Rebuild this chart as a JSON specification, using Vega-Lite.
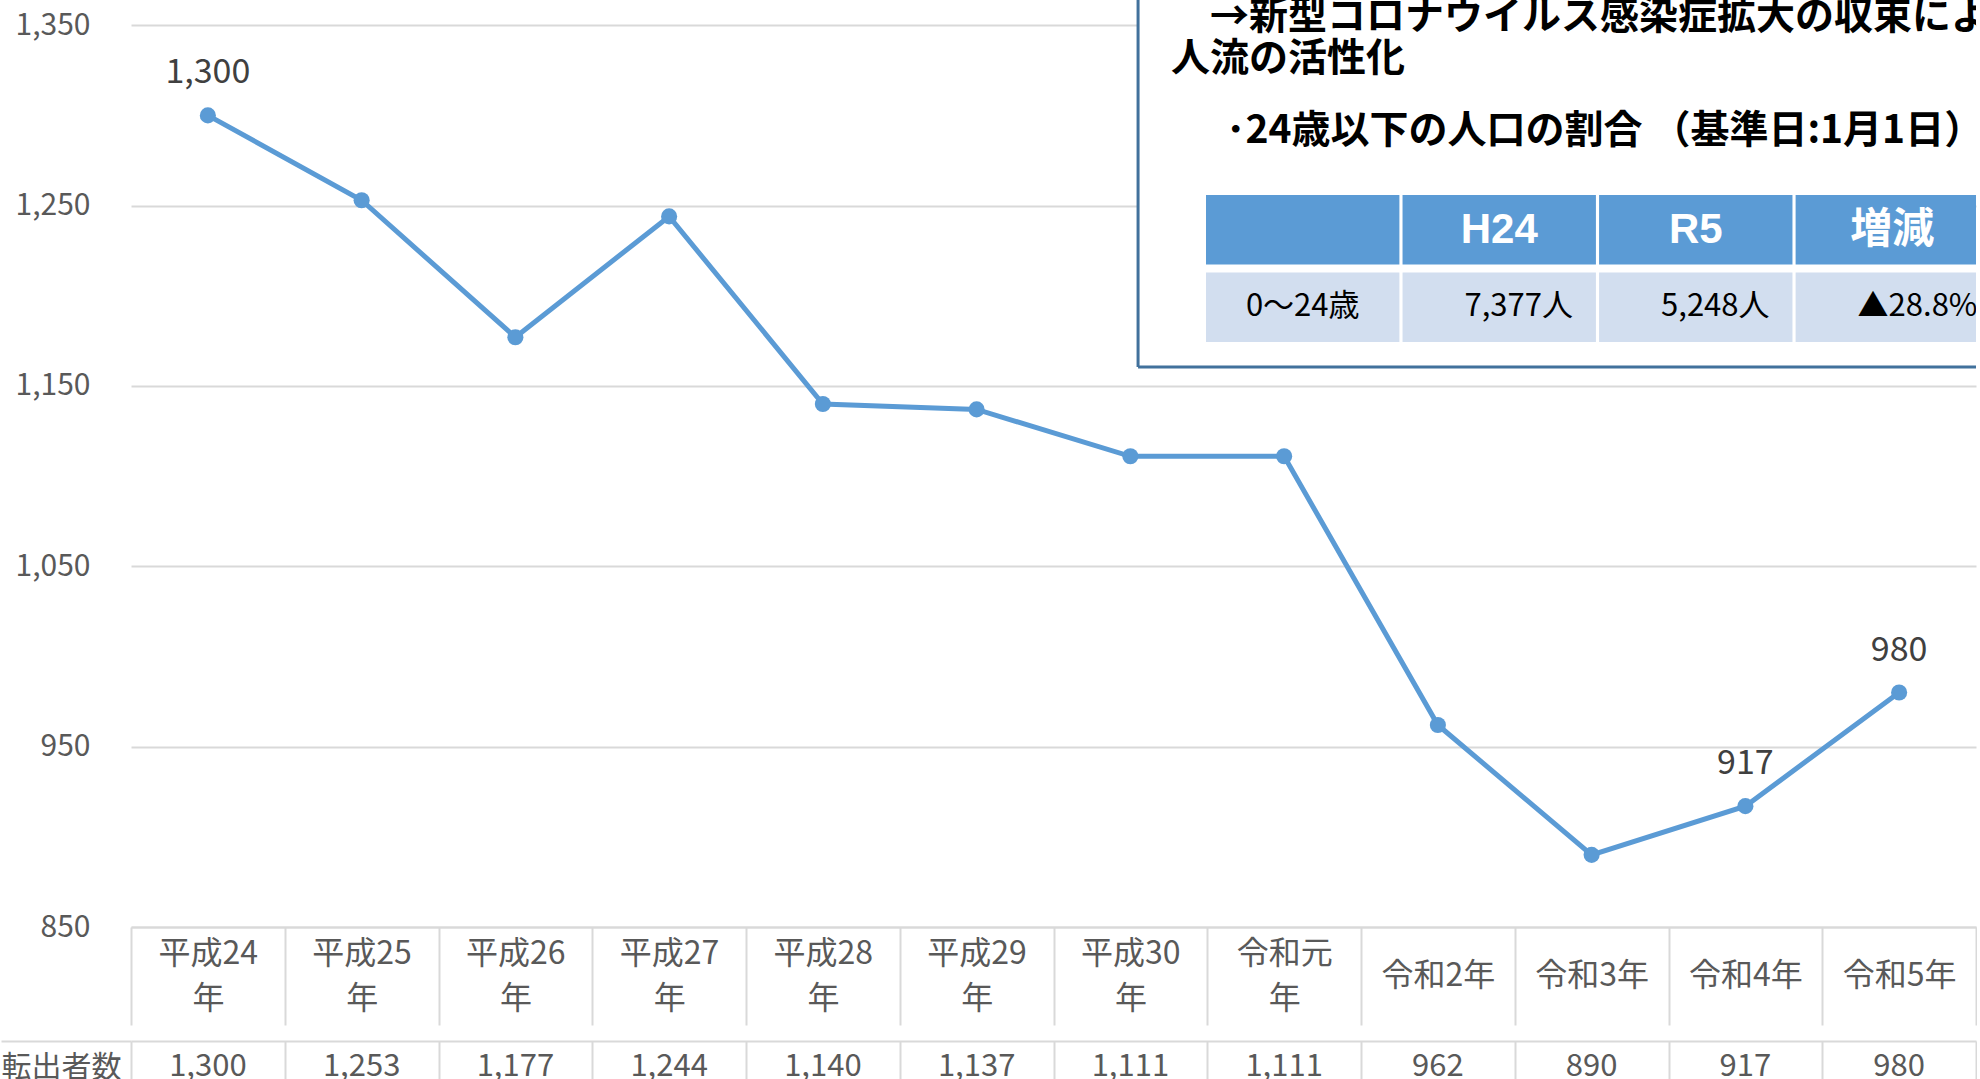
{
  "$schema": "https://vega.github.io/schema/vega-lite/v6.json",
  "padding": 0,
  "spacing": 0,
  "background": "white",
  "config": {"font": "Noto Sans CJK JP", "view": {"stroke": null}, "concat": {"spacing": 0}},
  "datasets": {
    "転出": [
      {"年": "平成24年", "転出者数": 1300},
      {"年": "平成25年", "転出者数": 1253},
      {"年": "平成26年", "転出者数": 1177},
      {"年": "平成27年", "転出者数": 1244},
      {"年": "平成28年", "転出者数": 1140},
      {"年": "平成29年", "転出者数": 1137},
      {"年": "平成30年", "転出者数": 1111},
      {"年": "令和元年", "転出者数": 1111},
      {"年": "令和2年", "転出者数": 962},
      {"年": "令和3年", "転出者数": 890},
      {"年": "令和4年", "転出者数": 917},
      {"年": "令和5年", "転出者数": 980}
    ],
    "年齢表": [
      {"行": "表頭", "列": "区分", "文字": ""},
      {"行": "表頭", "列": "H24", "文字": "H24"},
      {"行": "表頭", "列": "R5", "文字": "R5"},
      {"行": "表頭", "列": "増減", "文字": "増減"},
      {"行": "表体", "列": "区分", "文字": "0〜24歳"},
      {"行": "表体", "列": "H24", "文字": "7,377人"},
      {"行": "表体", "列": "R5", "文字": "5,248人"},
      {"行": "表体", "列": "増減", "文字": "▲28.8%"}
    ]
  },
  "vconcat": [
    {
      "width": 1845,
      "height": 927,
      "layer": [
        {
          "data": {"name": "転出"},
          "layer": [
            {
              "mark": {"type": "line", "color": "#5B9BD5", "strokeWidth": 5},
              "encoding": {
                "x": {
                  "field": "年", "type": "nominal", "sort": null, "bandPosition": 0.5,
                  "scale": {"type": "band", "paddingInner": 0, "paddingOuter": 0,
                    "domain": ["平成24年","平成25年","平成26年","平成27年","平成28年","平成29年","平成30年","令和元年","令和2年","令和3年","令和4年","令和5年"]},
                  "axis": {
                    "title": null, "orient": "bottom", "grid": false,
                    "domainColor": "#D9D9D9", "domainWidth": 2,
                    "tickBand": "extent", "tickSize": 98, "tickColor": "#D9D9D9", "tickWidth": 2,
                    "labelFont": "Noto Sans CJK JP", "labelFontSize": 32, "labelColor": "#595959",
                    "labelAngle": 0, "labelBaseline": "middle", "labelPadding": -72,
                    "labelLineHeight": 22.7, "labelOverlap": false, "maxExtent": 98,
                    "labelExpr": "(indexof(datum.label,'平成')===0 || datum.label==='令和元年') ? [replace(datum.label,'年',''), '\u200b', '年'] : ['\u200b', datum.label]"
                  }
                },
                "y": {
                  "field": "転出者数", "type": "quantitative",
                  "scale": {"domain": [850, 1364], "nice": false, "zero": false},
                  "axis": {
                    "title": null, "values": [850, 950, 1050, 1150, 1250, 1350], "format": ",.0f",
                    "grid": true, "gridColor": "#D9D9D9", "gridWidth": 2,
                    "domain": false, "ticks": false,
                    "labelFont": "Noto Sans CJK JP", "labelFontSize": 30, "labelColor": "#595959",
                    "labelPadding": 41, "labelBaseline": "middle"
                  }
                }
              }
            },
            {
              "mark": {"type": "point", "filled": true, "color": "#5B9BD5", "size": 260, "opacity": 1},
              "encoding": {
                "x": {"field": "年", "type": "nominal", "sort": null, "bandPosition": 0.5},
                "y": {"field": "転出者数", "type": "quantitative"}
              }
            },
            {
              "transform": [{"filter": {"field": "年", "oneOf": ["平成24年", "令和4年", "令和5年"]}}],
              "mark": {"type": "text", "fontSize": 34, "color": "#404040", "dy": -42, "baseline": "middle", "align": "center"},
              "encoding": {
                "x": {"field": "年", "type": "nominal", "sort": null, "bandPosition": 0.5},
                "y": {"field": "転出者数", "type": "quantitative"},
                "text": {"field": "転出者数", "type": "quantitative", "format": ","}
              }
            },
            {
              "data": {"values": [{}]},
              "mark": {"type": "rect", "fill": "white", "clip": true},
              "encoding": {
                "x": {"datum": "平成30年", "type": "nominal", "bandPosition": 0.55},
                "x2": {"datum": "令和5年", "bandPosition": 1},
                "y": {"datum": 1160.5, "type": "quantitative"},
                "y2": {"datum": 1364}
              }
            },
            {
              "data": {"values": [{}]},
              "mark": {"type": "rule", "stroke": "#41719C", "strokeWidth": 3, "clip": true},
              "encoding": {
                "x": {"datum": "平成30年", "type": "nominal", "bandPosition": 0.55},
                "y": {"datum": 1160.5, "type": "quantitative"},
                "y2": {"datum": 1364}
              }
            },
            {
              "data": {"values": [{}]},
              "mark": {"type": "rule", "stroke": "#41719C", "strokeWidth": 3, "clip": true},
              "encoding": {
                "x": {"datum": "平成30年", "type": "nominal", "bandPosition": 0.55},
                "x2": {"datum": "令和5年", "bandPosition": 1},
                "y": {"datum": 1160.5, "type": "quantitative"}
              }
            },
            {
              "data": {"values": [{}]},
              "mark": {"type": "text", "align": "left", "baseline": "middle", "fontSize": 39, "fontWeight": "bold", "color": "#000000", "dx": 72, "clip": true,
                "text": "→新型コロナウイルス感染症拡大の収束による"},
              "encoding": {
                "x": {"datum": "平成30年", "type": "nominal", "bandPosition": 0.55},
                "y": {"datum": 1354.7, "type": "quantitative"}
              }
            },
            {
              "data": {"values": [{}]},
              "mark": {"type": "text", "align": "left", "baseline": "middle", "fontSize": 39, "fontWeight": "bold", "color": "#000000", "dx": 33, "clip": true,
                "text": "人流の活性化"},
              "encoding": {
                "x": {"datum": "平成30年", "type": "nominal", "bandPosition": 0.55},
                "y": {"datum": 1331.2, "type": "quantitative"}
              }
            },
            {
              "data": {"values": [{}]},
              "mark": {"type": "text", "align": "left", "baseline": "middle", "fontSize": 39, "fontWeight": "bold", "color": "#000000", "dx": 88, "clip": true,
                "text": "･24歳以下の人口の割合 （基準日:1月1日）"},
              "encoding": {
                "x": {"datum": "平成30年", "type": "nominal", "bandPosition": 0.55},
                "y": {"datum": 1291.5, "type": "quantitative"}
              }
            }
          ]
        },
        {
          "data": {"name": "年齢表"},
          "layer": [
            {
              "mark": {"type": "rect", "clip": true},
              "encoding": {
                "x": {"field": "列", "type": "nominal", "sort": null,
                  "scale": {"type": "band", "domain": ["区分", "H24", "R5", "増減"], "range": [1075, 1858], "paddingInner": 0.016, "paddingOuter": 0},
                  "axis": null},
                "y": {"field": "行", "type": "nominal", "sort": null,
                  "scale": {"type": "band", "domain": ["表頭", "表体"], "range": [195, 342], "paddingInner": 0.105, "paddingOuter": 0},
                  "axis": null},
                "color": {"field": "行", "type": "nominal",
                  "scale": {"domain": ["表頭", "表体"], "range": ["#5B9BD5", "#D2DEEF"]}, "legend": null}
              }
            },
            {
              "transform": [{"filter": "datum['行']==='表頭'"}],
              "mark": {"type": "text", "font": "Liberation Sans, Noto Sans CJK JP", "fontSize": 42, "fontWeight": "bold", "color": "white", "baseline": "middle", "align": "center", "clip": true},
              "encoding": {
                "x": {"field": "列", "type": "nominal", "bandPosition": 0.5, "axis": null},
                "y": {"field": "行", "type": "nominal", "bandPosition": 0.5, "axis": null},
                "text": {"field": "文字", "type": "nominal"}
              }
            },
            {
              "transform": [{"filter": "datum['行']==='表体' && datum['列']==='区分'"}],
              "mark": {"type": "text", "fontSize": 31, "color": "#000000", "baseline": "middle", "align": "center", "clip": true},
              "encoding": {
                "x": {"field": "列", "type": "nominal", "bandPosition": 0.5, "axis": null},
                "y": {"field": "行", "type": "nominal", "bandPosition": 0.5, "axis": null},
                "text": {"field": "文字", "type": "nominal"}
              }
            },
            {
              "transform": [{"filter": "datum['行']==='表体' && datum['列']!=='区分'"}],
              "mark": {"type": "text", "fontSize": 31, "color": "#000000", "baseline": "middle", "align": "left", "dx": 62, "clip": true},
              "encoding": {
                "x": {"field": "列", "type": "nominal", "bandPosition": 0, "axis": null},
                "y": {"field": "行", "type": "nominal", "bandPosition": 0.5, "axis": null},
                "text": {"field": "文字", "type": "nominal"}
              }
            }
          ]
        }
      ],
      "resolve": {"scale": {"x": "independent", "y": "independent", "color": "independent"}}
    },
    {
      "width": 1845,
      "height": 52,
      "data": {"name": "転出"},
      "mark": {"type": "text", "font": "Noto Sans CJK JP", "fontSize": 31, "color": "#595959", "baseline": "middle", "align": "center"},
      "encoding": {
        "x": {
          "field": "年", "type": "nominal", "sort": null, "bandPosition": 0.5,
          "scale": {"type": "band", "paddingInner": 0, "paddingOuter": 0,
            "domain": ["平成24年","平成25年","平成26年","平成27年","平成28年","平成29年","平成30年","令和元年","令和2年","令和3年","令和4年","令和5年"]},
          "axis": {
            "orient": "top", "title": null, "labels": false, "ticks": false,
            "domain": true, "domainColor": "#D9D9D9", "domainWidth": 2,
            "minExtent": 0, "maxExtent": 0,
            "grid": true, "gridColor": "#D9D9D9", "gridWidth": 2, "tickBand": "extent"
          }
        },
        "y": {
          "datum": "転出者数", "type": "nominal", "bandPosition": 0.5,
          "scale": {"type": "band", "paddingInner": 0, "paddingOuter": 0},
          "axis": {
            "title": null, "domain": false, "ticks": true, "tickBand": "extent",
            "tickSize": 130, "tickColor": "#D9D9D9", "tickWidth": 2,
            "labelPadding": -120, "labelFont": "Noto Sans CJK JP", "labelFontSize": 30,
            "labelColor": "#595959", "labelBaseline": "middle", "grid": false
          }
        },
        "text": {"field": "転出者数", "type": "quantitative", "format": ","}
      }
    }
  ]
}
